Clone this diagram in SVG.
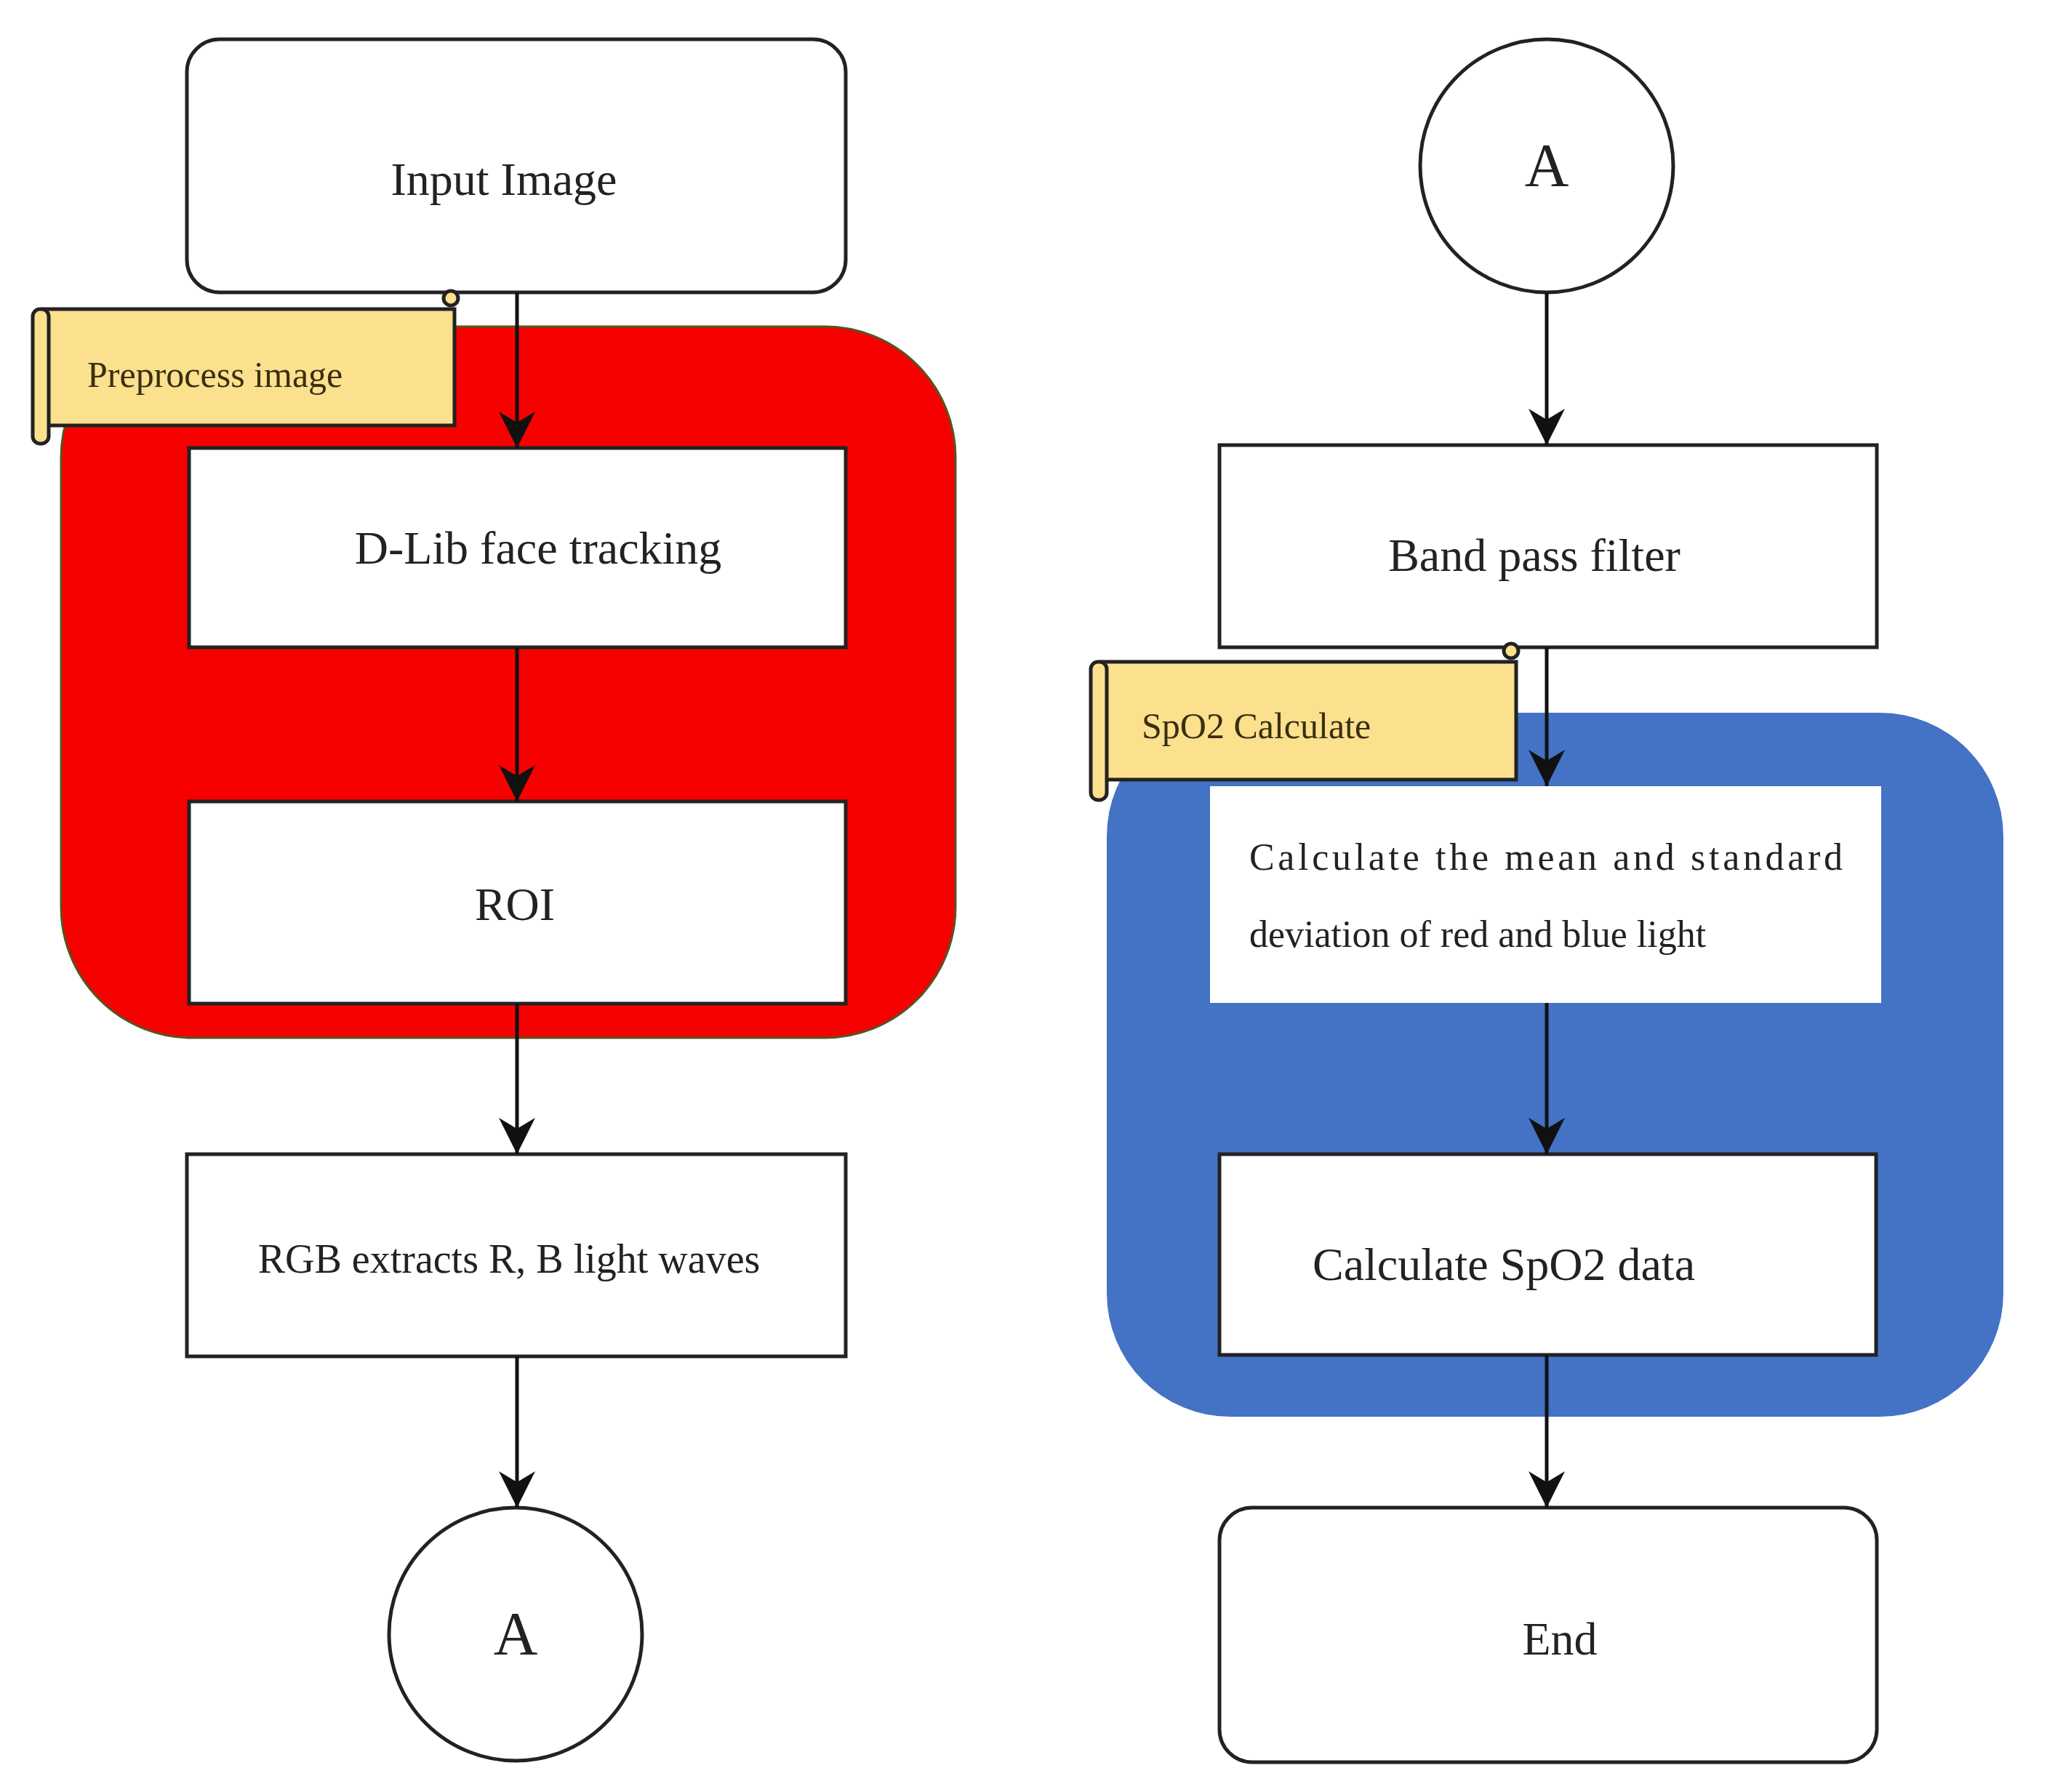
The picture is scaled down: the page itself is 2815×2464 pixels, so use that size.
<svg xmlns="http://www.w3.org/2000/svg" width="2815" height="2464" viewBox="0 0 2815 2464">
<style>
.box{fill:#fff;stroke:#222;stroke-width:5}
.t{font-family:"Liberation Serif",serif;font-size:64px;fill:#222;text-anchor:middle}
.s{font-family:"Liberation Serif",serif;font-size:50px;fill:#3a2e10}
.scroll{fill:#fbe08e;stroke:#222;stroke-width:5}
</style>
<defs>
<marker id="a" viewBox="0 0 10 10" refX="10" refY="5" markerWidth="50" markerHeight="50" markerUnits="userSpaceOnUse" orient="auto"><path d="M0,0 L10,5 L0,10 L3,5 Z" fill="#111"/></marker>
</defs>
<rect width="2815" height="2464" fill="#fff"/>
<g id="groupRed"><rect x="84" y="449" width="1230" height="978" rx="180" fill="#f70000" stroke="#552" stroke-width="3"/></g>
<g id="groupBlue"><rect x="1522" y="980" width="1233" height="968" rx="170" fill="#4472c4"/></g>
<g id="n1"><rect class="box" x="257" y="54" width="906" height="348" rx="45"/><text class="t" x="693" y="268">Input Image</text></g>
<g id="n2"><rect class="box" x="260" y="616" width="903" height="274"/><text class="t" x="740" y="775">D-Lib face tracking</text></g>
<g id="n3"><rect class="box" x="260" y="1102" width="903" height="278"/><text class="t" x="708" y="1265">ROI</text></g>
<g id="n4"><rect class="box" x="257" y="1587" width="906" height="278"/><text class="t" x="700" y="1750" style="font-size:56px">RGB extracts R, B light waves</text></g>
<g id="n5"><circle class="box" cx="709" cy="2247" r="174"/><text class="t" x="709" y="2275" style="font-size:84px">A</text></g>
<g id="n6"><circle class="box" cx="2127" cy="228" r="174"/><text class="t" x="2127" y="256" style="font-size:84px">A</text></g>
<g id="n7"><rect class="box" x="1677" y="612" width="904" height="278"/><text class="t" x="2110" y="785">Band pass filter</text></g>
<g id="n8"><rect x="1664" y="1081" width="923" height="298" fill="#fff"/><text class="t" x="1718" y="1196" style="font-size:52px;text-anchor:start" textLength="816">Calculate the mean and standard</text><text class="t" x="1718" y="1302" style="font-size:52px;text-anchor:start">deviation of red and blue light</text></g>
<g id="n9"><rect class="box" x="1677" y="1587" width="903" height="276"/><text class="t" x="2068" y="1760">Calculate SpO2 data</text></g>
<g id="n10"><rect class="box" x="1677" y="2073" width="904" height="350" rx="45"/><text class="t" x="2145" y="2275">End</text></g>
<g id="scroll1"><rect class="scroll" x="60" y="425" width="565" height="160"/><rect class="scroll" x="45" y="425" width="22" height="185" rx="10"/><circle cx="620" cy="410" r="10" class="scroll"/><text class="s" x="120" y="532">Preprocess image</text></g>
<g id="scroll2"><rect class="scroll" x="1515" y="910" width="570" height="162"/><rect class="scroll" x="1500" y="910" width="22" height="190" rx="10"/><circle cx="2078" cy="895" r="10" class="scroll"/><text class="s" x="1570" y="1015">SpO2 Calculate</text></g>
<g id="connectors" stroke="#111" stroke-width="5" fill="none">
<line x1="711" y1="402" x2="711" y2="616" marker-end="url(#a)"/>
<line x1="711" y1="890" x2="711" y2="1102" marker-end="url(#a)"/>
<line x1="711" y1="1380" x2="711" y2="1587" marker-end="url(#a)"/>
<line x1="711" y1="1865" x2="711" y2="2073" marker-end="url(#a)"/>
<line x1="2127" y1="402" x2="2127" y2="612" marker-end="url(#a)"/>
<line x1="2127" y1="890" x2="2127" y2="1081" marker-end="url(#a)"/>
<line x1="2127" y1="1379" x2="2127" y2="1587" marker-end="url(#a)"/>
<line x1="2127" y1="1863" x2="2127" y2="2073" marker-end="url(#a)"/>
</g>
</svg>
